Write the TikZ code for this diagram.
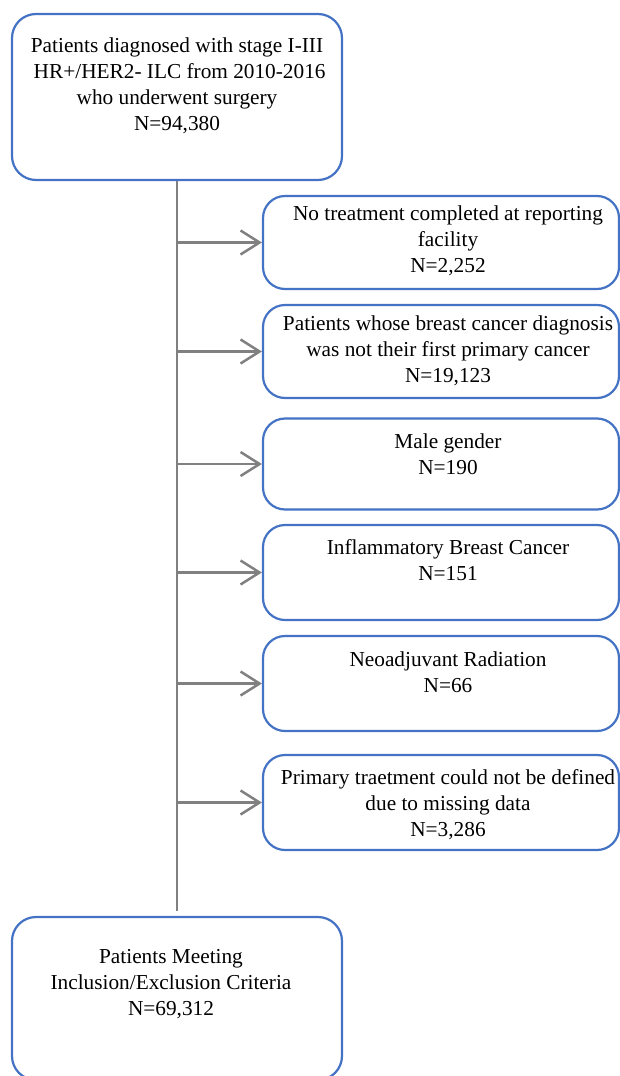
\documentclass[tikz,border=0pt]{standalone}
\usepackage{fontspec}
\setmainfont{Liberation Serif}
\usetikzlibrary{arrows.meta}
\definecolor{boxblue}{HTML}{4472C4}
\definecolor{linegray}{HTML}{808080}
\tikzset{
  bbox/.style={draw=boxblue, line width=2.2pt, rounded corners=24pt, fill=white, inner sep=0pt},
  rbox/.style={bbox, rounded corners=22pt, minimum width=356pt},
  txt/.style={anchor=north, align=center, inner sep=0pt, font=\fontsize{21.3}{26}\selectfont},
  gline/.style={draw=linegray, line width=2.5pt},
  arr/.style={gline, -{Straight Barb[length=19pt, width=24pt, line width=2.5pt]}}
}
\begin{document}
\begin{tikzpicture}[x=1pt,y=-1pt]
\useasboundingbox (0,0) rectangle (620,1076);
\clip (0,0) rectangle (620,1076);
\coordinate (trunk) at (177,0);
% main boxes
\node[bbox, minimum width=330pt, minimum height=166pt] (top) at (177,97) {};
\node[txt] (toptxt) at (177,38) {Patients diagnosed with stage I-III\\ \ HR+/HER2- ILC from 2010-2016\\who underwent surgery\\N=94,380};
\node[bbox, minimum width=330pt, minimum height=163pt] (bot) at (177,998.5) {};
\node[txt] (bottxt) at (171,949.5) {Patients Meeting\\Inclusion/Exclusion Criteria\\N=69,312};
% exclusion boxes
\node[rbox, minimum height=93pt] (b1) at (441,242.5) {};
\node[txt] (t1) at (448,206) {No treatment completed at reporting\\facility\\N=2,252};
\node[rbox, minimum height=93pt] (b2) at (441,351.5) {};
\node[txt] (t2) at (448,315.5) {Patients whose breast cancer diagnosis\\was not their first primary cancer\\N=19,123};
\node[rbox, minimum height=91pt] (b3) at (441,464) {};
\node[txt] (t3) at (448,433.5) {Male gender\\N=190};
\node[rbox, minimum height=95pt] (b4) at (441,572.5) {};
\node[txt] (t4) at (448,539.5) {Inflammatory Breast Cancer\\N=151};
\node[rbox, minimum height=95pt] (b5) at (441,683.5) {};
\node[txt] (t5) at (448,651.5) {Neoadjuvant Radiation\\N=66};
\node[rbox, minimum height=95pt] (b6) at (441,802.5) {};
\node[txt] (t6) at (448,769.5) {Primary traetment could not be defined\\due to missing data\\N=3,286};
% connectors
\draw[gline] (top.south) -- ([yshift=5pt]bot.north);
\foreach \b in {b1,b2,b3,b4,b5,b6}{
  \draw[arr] (\b.west -| trunk) -- (\b.west);
}
\end{tikzpicture}
\end{document}
